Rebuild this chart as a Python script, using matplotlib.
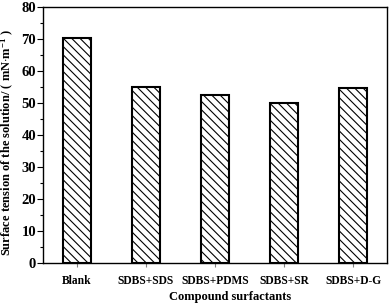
import matplotlib
matplotlib.use("Agg")
import matplotlib.pyplot as plt
from matplotlib.ticker import MultipleLocator

categories = ["Blank", "SDBS+SDS", "SDBS+PDMS", "SDBS+SR", "SDBS+D-G"]
values = [70.2, 54.9, 52.6, 50.0, 54.6]
yticks = [0, 10, 20, 30, 40, 50, 60, 70, 80]

plt.rcParams['font.family'] = ['Liberation Serif', 'DejaVu Serif']
plt.rcParams['font.weight'] = 'bold'
plt.rcParams['axes.labelweight'] = 'bold'
plt.rcParams['hatch.linewidth'] = 0.8
plt.rcParams['mathtext.fontset'] = 'custom'
plt.rcParams['mathtext.rm'] = 'Liberation Serif:bold'
plt.rcParams['mathtext.default'] = 'rm'

fig = plt.figure(figsize=(3.89, 3.08), dpi=100)
ax = fig.add_axes([43/389, 45/308, 344/389, 256/308])

x = list(range(len(categories)))
ax.bar(x, values, width=0.4, facecolor='white', edgecolor='black',
       linewidth=1.5, hatch='\\\\\\\\')

ax.set_xlim(-0.49, 4.49)
ax.set_ylim(0, 80)
ax.set_yticks(yticks)
ax.yaxis.set_minor_locator(MultipleLocator(5))
ax.set_xticks(x)
ax.set_xticklabels(categories)
ax.tick_params(axis='y', which='major', direction='out', length=4, width=0.8, labelsize=10.5, pad=1)
ax.tick_params(axis='y', which='minor', direction='out', length=2, width=0.8)
ax.tick_params(axis='x', direction='out', length=3, width=0.8, labelsize=8.3, pad=6, color='gray')
for s in ax.spines.values():
    s.set_linewidth(1.0)

ax.set_xlabel("Compound surfactants", fontsize=9)
ax.xaxis.set_label_coords(0.545, -0.108)
ax.set_ylabel(r"Surface tension of the solution/ ( mN$\cdot$m$^{-1}$ )", fontsize=9)
ax.yaxis.set_label_coords(-0.078, 0.47)

fig.savefig("out.png", dpi=100)
